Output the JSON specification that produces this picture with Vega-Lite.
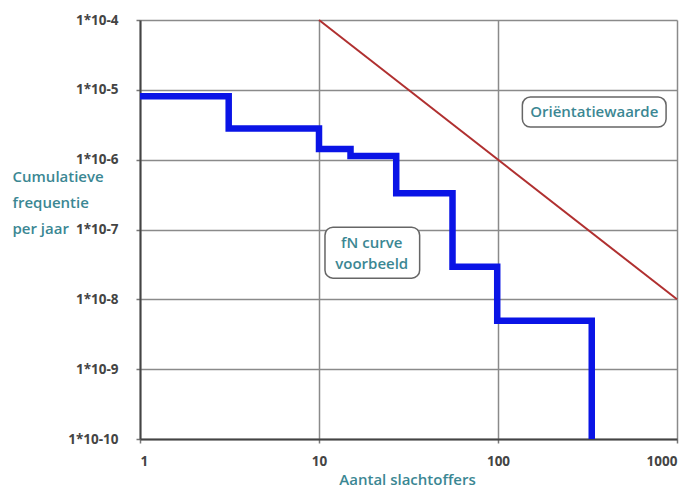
{
  "$schema": "https://vega.github.io/schema/vega-lite/v6.json",
  "width": 537,
  "height": 419,
  "autosize": "none",
  "padding": {"left": 140, "top": 20, "right": 17, "bottom": 51},
  "background": "white",
  "config": {
    "view": {"stroke": null},
    "font": "Open Sans",
    "axis": {
      "grid": true,
      "gridColor": "#8a8a8a",
      "gridWidth": 1.5,
      "domainColor": "#444",
      "domainWidth": 2,
      "tickColor": "#777",
      "tickSize": 4,
      "tickWidth": 1.5,
      "labelFont": "Open Sans",
      "labelFontWeight": "bold",
      "labelFontSize": 13.5,
      "labelColor": "#444444",
      "titleFont": "Open Sans",
      "titleFontWeight": 600,
      "titleFontSize": 15,
      "titleColor": "#3b8793"
    }
  },
  "datasets": {
    "fn": [
      {"x": 1, "y": 8.1e-6},
      {"x": 3.13, "y": 2.8e-6},
      {"x": 10, "y": 1.42e-6},
      {"x": 15, "y": 1.13e-6},
      {"x": 27, "y": 3.3e-7},
      {"x": 55.7, "y": 2.93e-8},
      {"x": 99, "y": 4.92e-9},
      {"x": 334, "y": 1e-10}
    ],
    "orient": [
      {"x": 10, "y": 1e-4},
      {"x": 1000, "y": 1e-8}
    ],
    "boxes": [
      {"x": 10.8, "x2": 36.5, "y": 1.08e-7, "y2": 2.01e-8},
      {"x": 136.8, "x2": 869, "y": 7.88e-6, "y2": 2.93e-6}
    ],
    "labels": [
      {"x": 19.7, "y": 6.38e-8, "text": "fN curve\nvoorbeeld"},
      {"x": 345, "y": 4.81e-6, "text": "Oriëntatiewaarde"}
    ]
  },
  "encoding": {
    "x": {
      "field": "x",
      "type": "quantitative",
      "scale": {"type": "log", "domain": [1, 1000], "nice": false},
      "axis": {
        "values": [1, 10, 100, 1000],
        "format": "d",
        "labelPadding": 11,
        "title": "Aantal slachtoffers",
        "titleX": 267,
        "titleY": 40,
        "titleBaseline": "middle",
        "titleAnchor": null
      }
    },
    "y": {
      "field": "y",
      "type": "quantitative",
      "scale": {"type": "log", "domain": [1e-10, 1e-4], "nice": false},
      "axis": {
        "values": [1e-10, 1e-9, 1e-8, 1e-7, 1e-6, 1e-5, 1e-4],
        "labelExpr": "'1*10' + round(log(datum.value)/LN10)",
        "labelPadding": 18,
        "title": ["Cumulatieve", "frequentie", "per jaar"],
        "titleAngle": 0,
        "titleAlign": "left",
        "titleBaseline": "top",
        "titleX": -128,
        "titleY": 149,
        "titleLineHeight": 26
      }
    }
  },
  "layer": [
    {
      "data": {"name": "boxes"},
      "mark": {"type": "rect", "fill": "white", "stroke": "#666666", "strokeWidth": 1.5, "cornerRadius": 8},
      "encoding": {
        "x2": {"field": "x2"},
        "y2": {"field": "y2"}
      }
    },
    {
      "data": {"name": "labels"},
      "mark": {"type": "text", "lineBreak": "\n", "font": "Open Sans", "fontSize": 15, "fontWeight": 600, "color": "#3b8793", "lineHeight": 21, "align": "center", "baseline": "middle"},
      "encoding": {
        "text": {"field": "text"}
      }
    },
    {
      "data": {"name": "orient"},
      "mark": {"type": "line", "color": "#b03030", "strokeWidth": 2},
      "encoding": {}
    },
    {
      "data": {"name": "fn"},
      "mark": {"type": "line", "interpolate": "step-after", "color": "#0a14e6", "strokeWidth": 6.5, "strokeJoin": "miter", "strokeCap": "butt"},
      "encoding": {}
    }
  ]
}
